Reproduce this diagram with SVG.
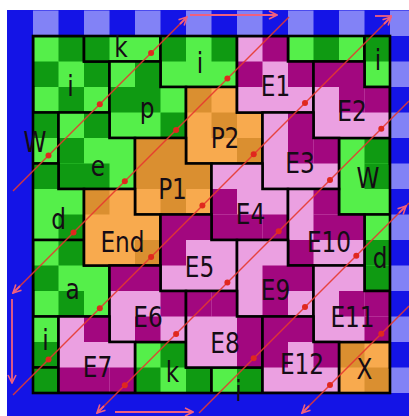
<svg xmlns="http://www.w3.org/2000/svg" xmlns:xlink="http://www.w3.org/1999/xlink" width="409" height="416" viewBox="0 0 409 416">
<style>
.gL{fill:#55ef4a}.gD{fill:#0f9a12}.oL{fill:#f8aa4e}.oD{fill:#da8f30}.pL{fill:#eba0e1}.pD{fill:#a2077f}
.bL{fill:#8282f6}.bD{fill:#1414e6}
.ol{fill:none;stroke:#000;stroke-width:2.6}
.lb{font-family:"DejaVu Sans","Liberation Sans",sans-serif;font-size:29px;fill:#150c15;text-anchor:middle}
.rl{stroke:#e5392f;stroke-width:1.4;fill:none;opacity:.9}
.dt{fill:#e0281e}
.ba{stroke:#f0607e;stroke-width:1.8;fill:none}
</style>
<defs>
<path id="sh" d="M0,0H51V25.5H76.5V76.5H0Z"/>
<rect id="c" width="25.5" height="25.5"/>
<clipPath id="bd"><rect x="33" y="36" width="357" height="357"/></clipPath>
<marker id="ah" viewBox="0 0 10 10" refX="9" refY="5" markerWidth="10" markerHeight="10" markerUnits="userSpaceOnUse" orient="auto-start-reverse"><path d="M1,1L9,5L1,9" fill="none" stroke="#f0607e" stroke-width="1.6"/></marker>
</defs>
<rect width="409" height="416" fill="#fff"/>
<g id="border">
<rect class="bD" x="7" y="10" width="402" height="406"/>
<use href="#c" class="bL" x="33" y="10.5"/><use href="#c" class="bL" x="84" y="10.5"/><use href="#c" class="bL" x="135" y="10.5"/><use href="#c" class="bL" x="186" y="10.5"/><use href="#c" class="bL" x="237" y="10.5"/><use href="#c" class="bL" x="288" y="10.5"/><use href="#c" class="bL" x="339" y="10.5"/><use href="#c" class="bL" x="390" y="10.5"/>
<use href="#c" class="bL" x="390" y="61.5"/><use href="#c" class="bL" x="390" y="112.5"/><use href="#c" class="bL" x="390" y="163.5"/><use href="#c" class="bL" x="390" y="214.5"/><use href="#c" class="bL" x="390" y="265.5"/><use href="#c" class="bL" x="390" y="316.5"/><use href="#c" class="bL" x="390" y="367.5"/>
</g>
<g clip-path="url(#bd)">
<g id="i_TL"><use href="#sh" class="gL" transform="translate(33,36)"/><use href="#c" class="gD" x="58.5" y="36"/><use href="#c" class="gD" x="33" y="61.5"/><use href="#c" class="gD" x="84" y="61.5"/><use href="#c" class="gD" x="58.5" y="87"/><use href="#sh" class="ol" transform="translate(33,36)"/></g>
<g id="k_top"><use href="#sh" class="gL" transform="translate(84,-15)"/><use href="#c" class="gD" x="84" y="36"/><use href="#sh" class="ol" transform="translate(84,-15)"/></g>
<g id="i_top"><use href="#sh" class="gL" transform="translate(160.5,10.5)"/><use href="#c" class="gD" x="160.5" y="36"/><use href="#c" class="gD" x="211.5" y="36"/><use href="#sh" class="ol" transform="translate(160.5,10.5)"/></g>
<g id="g_top"><use href="#sh" class="gL" transform="translate(288,-15)"/><use href="#c" class="gD" x="313.5" y="36"/><use href="#sh" class="ol" transform="translate(288,-15)"/></g>
<g id="i_TR"><use href="#sh" class="gL" transform="translate(364.5,10.5)"/><use href="#c" class="gD" x="364.5" y="36"/><use href="#sh" class="ol" transform="translate(364.5,10.5)"/></g>
<g id="p"><use href="#sh" class="gL" transform="translate(109.5,61.5)"/><use href="#c" class="gD" x="135" y="61.5"/><use href="#c" class="gD" x="109.5" y="87"/><use href="#c" class="gD" x="135" y="87"/><use href="#c" class="gD" x="160.5" y="112.5"/><use href="#sh" class="ol" transform="translate(109.5,61.5)"/></g>
<g id="W_left"><use href="#sh" class="gL" transform="translate(-18,87)"/><use href="#c" class="gD" x="33" y="112.5"/><use href="#sh" class="ol" transform="translate(-18,87)"/></g>
<g id="e"><use href="#sh" class="gL" transform="translate(58.5,112.5)"/><use href="#c" class="gD" x="84" y="112.5"/><use href="#c" class="gD" x="58.5" y="138"/><use href="#c" class="gD" x="58.5" y="163.5"/><use href="#c" class="gD" x="84" y="163.5"/><use href="#sh" class="ol" transform="translate(58.5,112.5)"/></g>
<g id="W_right"><use href="#sh" class="gL" transform="translate(339,138)"/><use href="#c" class="gD" x="364.5" y="138"/><use href="#c" class="gD" x="364.5" y="163.5"/><use href="#sh" class="ol" transform="translate(339,138)"/></g>
<g id="d_left"><use href="#sh" class="gL" transform="translate(7.5,163.5)"/><use href="#c" class="gD" x="33" y="163.5"/><use href="#c" class="gD" x="58.5" y="214.5"/><use href="#sh" class="ol" transform="translate(7.5,163.5)"/></g>
<g id="d_right"><use href="#sh" class="gL" transform="translate(364.5,214.5)"/><use href="#c" class="gD" x="364.5" y="240"/><use href="#c" class="gD" x="364.5" y="265.5"/><use href="#sh" class="ol" transform="translate(364.5,214.5)"/></g>
<g id="a"><use href="#sh" class="gL" transform="translate(33,240)"/><use href="#c" class="gD" x="58.5" y="240"/><use href="#c" class="gD" x="33" y="265.5"/><use href="#c" class="gD" x="58.5" y="291"/><use href="#sh" class="ol" transform="translate(33,240)"/></g>
<g id="i_BL"><use href="#sh" class="gL" transform="translate(-18,291)"/><use href="#c" class="gD" x="33" y="342"/><use href="#sh" class="ol" transform="translate(-18,291)"/></g>
<g id="k_bot"><use href="#sh" class="gL" transform="translate(135,342)"/><use href="#c" class="gD" x="160.5" y="342"/><use href="#c" class="gD" x="135" y="367.5"/><use href="#c" class="gD" x="186" y="367.5"/><use href="#sh" class="ol" transform="translate(135,342)"/></g>
<g id="i_bot"><use href="#sh" class="gL" transform="translate(211.5,367.5)"/><use href="#c" class="gD" x="237" y="367.5"/><use href="#sh" class="ol" transform="translate(211.5,367.5)"/></g>
<g id="g_bl"><use href="#sh" class="gL" transform="translate(7.5,367.5)"/><use href="#c" class="gD" x="33" y="367.5"/><use href="#sh" class="ol" transform="translate(7.5,367.5)"/></g>
<g id="P2"><use href="#sh" class="oL" transform="translate(186,87)"/><use href="#c" class="oD" x="186" y="87"/><use href="#c" class="oD" x="211.5" y="112.5"/><use href="#c" class="oD" x="237" y="138"/><use href="#sh" class="ol" transform="translate(186,87)"/></g>
<g id="P1"><use href="#sh" class="oD" transform="translate(135,138)"/><use href="#c" class="oL" x="135" y="189"/><use href="#c" class="oL" x="186" y="189"/><use href="#sh" class="ol" transform="translate(135,138)"/></g>
<g id="End"><use href="#sh" class="oL" transform="translate(84,189)"/><use href="#c" class="oD" x="84" y="189"/><use href="#c" class="oD" x="135" y="240"/><use href="#sh" class="ol" transform="translate(84,189)"/></g>
<g id="X"><use href="#sh" class="oL" transform="translate(339,342)"/><use href="#c" class="oD" x="339" y="342"/><use href="#c" class="oD" x="364.5" y="367.5"/><use href="#sh" class="ol" transform="translate(339,342)"/></g>
<g id="E1"><use href="#sh" class="pL" transform="translate(237,36)"/><use href="#c" class="pD" x="262.5" y="36"/><use href="#c" class="pD" x="237" y="61.5"/><use href="#c" class="pD" x="288" y="61.5"/><use href="#sh" class="ol" transform="translate(237,36)"/></g>
<g id="E2"><use href="#sh" class="pL" transform="translate(313.5,61.5)"/><use href="#c" class="pD" x="313.5" y="61.5"/><use href="#c" class="pD" x="339" y="61.5"/><use href="#c" class="pD" x="339" y="87"/><use href="#c" class="pD" x="364.5" y="87"/><use href="#sh" class="ol" transform="translate(313.5,61.5)"/></g>
<g id="E3"><use href="#sh" class="pL" transform="translate(262.5,112.5)"/><use href="#c" class="pD" x="288" y="112.5"/><use href="#c" class="pD" x="288" y="138"/><use href="#c" class="pD" x="313.5" y="138"/><use href="#sh" class="ol" transform="translate(262.5,112.5)"/></g>
<g id="E4"><use href="#sh" class="pL" transform="translate(211.5,163.5)"/><use href="#c" class="pD" x="211.5" y="189"/><use href="#c" class="pD" x="211.5" y="214.5"/><use href="#c" class="pD" x="237" y="214.5"/><use href="#c" class="pD" x="262.5" y="214.5"/><use href="#sh" class="ol" transform="translate(211.5,163.5)"/></g>
<g id="E10"><use href="#sh" class="pL" transform="translate(288,189)"/><use href="#c" class="pD" x="313.5" y="189"/><use href="#c" class="pD" x="313.5" y="214.5"/><use href="#c" class="pD" x="339" y="214.5"/><use href="#c" class="pD" x="288" y="240"/><use href="#sh" class="ol" transform="translate(288,189)"/></g>
<g id="E5"><use href="#sh" class="pL" transform="translate(160.5,214.5)"/><use href="#c" class="pD" x="160.5" y="214.5"/><use href="#c" class="pD" x="186" y="214.5"/><use href="#c" class="pD" x="160.5" y="240"/><use href="#sh" class="ol" transform="translate(160.5,214.5)"/></g>
<g id="E9"><use href="#sh" class="pL" transform="translate(237,240)"/><use href="#c" class="pD" x="262.5" y="265.5"/><use href="#c" class="pD" x="288" y="265.5"/><use href="#c" class="pD" x="262.5" y="291"/><use href="#sh" class="ol" transform="translate(237,240)"/></g>
<g id="E6"><use href="#sh" class="pL" transform="translate(109.5,265.5)"/><use href="#c" class="pD" x="109.5" y="265.5"/><use href="#c" class="pD" x="135" y="265.5"/><use href="#c" class="pD" x="160.5" y="291"/><use href="#c" class="pD" x="135" y="316.5"/><use href="#sh" class="ol" transform="translate(109.5,265.5)"/></g>
<g id="E11"><use href="#sh" class="pL" transform="translate(313.5,265.5)"/><use href="#c" class="pD" x="339" y="291"/><use href="#c" class="pD" x="364.5" y="291"/><use href="#c" class="pD" x="364.5" y="316.5"/><use href="#sh" class="ol" transform="translate(313.5,265.5)"/></g>
<g id="E8"><use href="#sh" class="pL" transform="translate(186,291)"/><use href="#c" class="pD" x="186" y="291"/><use href="#c" class="pD" x="211.5" y="291"/><use href="#c" class="pD" x="237" y="316.5"/><use href="#c" class="pD" x="237" y="342"/><use href="#sh" class="ol" transform="translate(186,291)"/></g>
<g id="E7"><use href="#sh" class="pL" transform="translate(58.5,316.5)"/><use href="#c" class="pD" x="84" y="316.5"/><use href="#c" class="pD" x="58.5" y="367.5"/><use href="#c" class="pD" x="84" y="367.5"/><use href="#c" class="pD" x="109.5" y="367.5"/><use href="#sh" class="ol" transform="translate(58.5,316.5)"/></g>
<g id="E12"><use href="#sh" class="pL" transform="translate(262.5,316.5)"/><use href="#c" class="pD" x="262.5" y="316.5"/><use href="#c" class="pD" x="288" y="316.5"/><use href="#c" class="pD" x="262.5" y="342"/><use href="#c" class="pD" x="313.5" y="342"/><use href="#sh" class="ol" transform="translate(262.5,316.5)"/></g>
</g>
<rect x="33" y="36" width="357" height="357" class="ol"/>
<g id="labels" class="lb">
<text transform="translate(70.5,96) scale(.8,1)">i</text>
<text transform="translate(121,57) scale(.8,1)">k</text>
<text transform="translate(200,73) scale(.8,1)">i</text>
<text transform="translate(378,70) scale(.8,1)">i</text>
<text transform="translate(147,118) scale(.8,1)">p</text>
<text transform="translate(35,152) scale(.8,1)">W</text>
<text transform="translate(98,176) scale(.8,1)">e</text>
<text transform="translate(368,188) scale(.8,1)">W</text>
<text transform="translate(58.5,229) scale(.8,1)">d</text>
<text transform="translate(380,268) scale(.8,1)">d</text>
<text transform="translate(72.5,299) scale(.8,1)">a</text>
<text transform="translate(45.5,350) scale(.8,1)">i</text>
<text transform="translate(172.5,382) scale(.8,1)">k</text>
<text transform="translate(238.5,401) scale(.8,1)">i</text>
<text transform="translate(225,148) scale(.8,1)">P2</text>
<text transform="translate(172.5,199) scale(.8,1)">P1</text>
<text transform="translate(122.5,252) scale(.8,1)">End</text>
<text transform="translate(364.5,379) scale(.8,1)">X</text>
<text transform="translate(275.5,96) scale(.8,1)">E1</text>
<text transform="translate(352,121) scale(.8,1)">E2</text>
<text transform="translate(300,173) scale(.8,1)">E3</text>
<text transform="translate(250.5,224) scale(.8,1)">E4</text>
<text transform="translate(329,252) scale(.8,1)">E10</text>
<text transform="translate(199.5,277) scale(.8,1)">E5</text>
<text transform="translate(275.5,300) scale(.8,1)">E9</text>
<text transform="translate(148,327) scale(.8,1)">E6</text>
<text transform="translate(352.5,327) scale(.8,1)">E11</text>
<text transform="translate(225,353) scale(.8,1)">E8</text>
<text transform="translate(97.5,377) scale(.8,1)">E7</text>
<text transform="translate(302,374) scale(.8,1)">E12</text>
</g>
<g id="connectors">
<line class="rl" x1="13" y1="191" x2="187" y2="17"/>
<line class="rl" x1="13" y1="293" x2="289" y2="17"/>
<line class="rl" x1="13" y1="395" x2="391" y2="17"/>
<line class="rl" x1="97" y1="413" x2="409" y2="101"/>
<line class="rl" x1="199" y1="413" x2="409" y2="203"/>
<line class="rl" x1="302" y1="413" x2="409" y2="306"/>
<g class="dt">
<circle cx="48.5" cy="155.5" r="3"/><circle cx="99.8" cy="104.2" r="3"/><circle cx="151.1" cy="52.9" r="3"/>
<circle cx="73.5" cy="232.5" r="3"/><circle cx="124.8" cy="181.2" r="3"/><circle cx="176.1" cy="129.9" r="3"/><circle cx="227.4" cy="78.6" r="3"/>
<circle cx="48.5" cy="359.5" r="3"/><circle cx="99.8" cy="308.2" r="3"/><circle cx="151.1" cy="256.9" r="3"/><circle cx="202.4" cy="205.6" r="3"/><circle cx="253.7" cy="154.3" r="3"/><circle cx="305" cy="103" r="3"/>
<circle cx="124.8" cy="385.2" r="3"/><circle cx="176.1" cy="333.9" r="3"/><circle cx="227.4" cy="282.6" r="3"/><circle cx="278.7" cy="231.3" r="3"/><circle cx="330" cy="180" r="3"/><circle cx="381.3" cy="128.7" r="3"/>
<circle cx="253.7" cy="358.3" r="3"/><circle cx="305" cy="307" r="3"/><circle cx="356.3" cy="255.7" r="3"/>
<circle cx="330" cy="385" r="3"/><circle cx="381.3" cy="333.7" r="3"/>
</g>
<line class="ba" x1="190" y1="15" x2="277" y2="15" marker-end="url(#ah)"/>
<line class="ba" x1="375" y1="16" x2="392" y2="16"/>
<line class="ba" x1="12" y1="299" x2="12" y2="383" marker-end="url(#ah)"/>
<line class="ba" x1="115" y1="412" x2="193" y2="412" marker-end="url(#ah)"/>
<line class="ba" x1="20" y1="286" x2="13" y2="293" marker-end="url(#ah)"/>
<line class="ba" x1="104" y1="406" x2="97" y2="413" marker-end="url(#ah)"/>
<line class="ba" x1="309" y1="406" x2="302" y2="413" marker-end="url(#ah)"/>
<line class="ba" x1="180" y1="24" x2="187" y2="17" marker-end="url(#ah)"/>
<line class="ba" x1="384" y1="24" x2="391" y2="17" marker-end="url(#ah)"/>
<line class="ba" x1="399" y1="213" x2="406" y2="206" marker-end="url(#ah)"/>
</g>
</svg>
